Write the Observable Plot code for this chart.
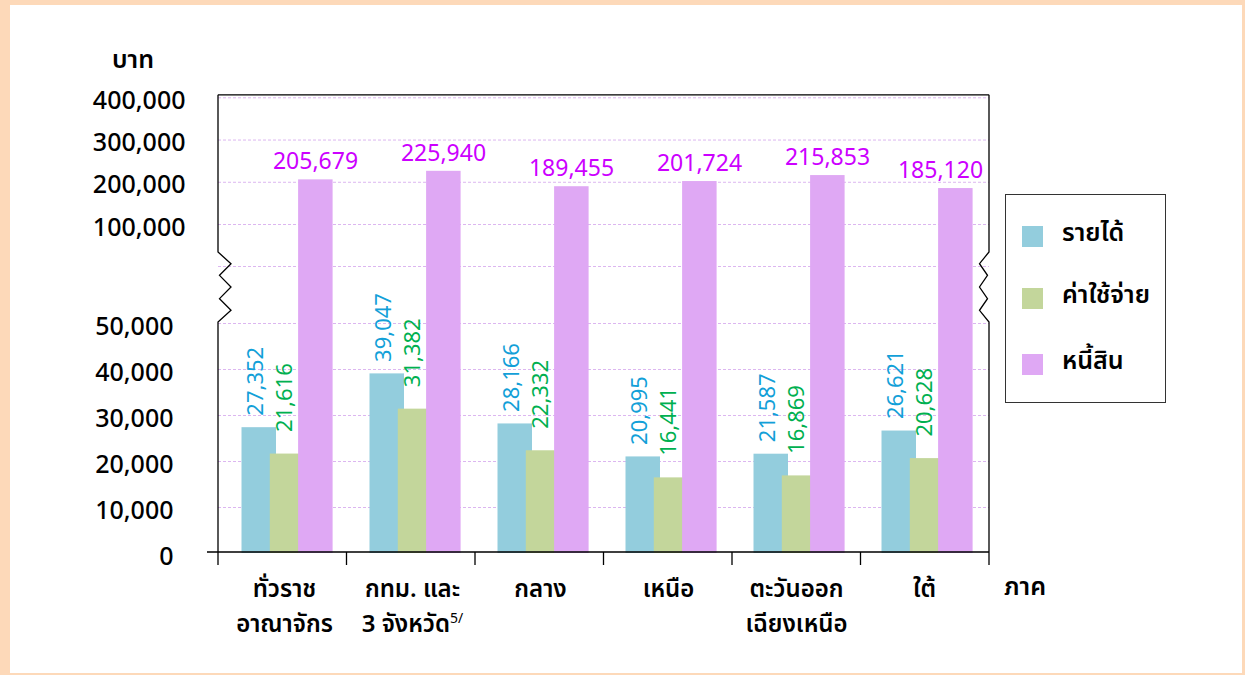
<!DOCTYPE html>
<html>
<head>
<meta charset="utf-8">
<script src="https://cdn.jsdelivr.net/npm/d3@7"></script>
<script src="https://cdn.jsdelivr.net/npm/@observablehq/plot@0.6"></script>
<style>
  body { margin: 0; background: #fff; }
  #page { position: relative; width: 1245px; height: 675px; background: #fdd9b9; overflow: hidden;
          font-family: "Noto Sans", Tahoma, "Noto Sans Thai", "DejaVu Sans", sans-serif; }
  #inner { position: absolute; left: 10px; top: 5px; width: 1232px; height: 668px; background: #fff; }
  #chart { position: absolute; left: 0; top: 0; }
  .txt { position: absolute; color: #000; font-size: 25px; font-weight: 600; white-space: nowrap; }
  #legend { position: absolute; left: 1005px; top: 194px; width: 159px; height: 207px;
            border: 1.5px solid #333; background: #fff; }
  .item { position: absolute; left: 16px; height: 22px; }
  .sw { position: absolute; left: 0; top: 0; width: 21px; height: 21px; }
  .lt { position: absolute; left: 40px; top: -12px; font-size: 25px; font-weight: 600; white-space: nowrap; color: #000; }
</style>
</head>
<body>
<div id="page">
  <div id="inner"></div>
  <div id="chart"></div>
  <div class="txt" id="unit" style="left:112px; top:41px;">บาท</div>
  <div class="txt" id="xunit" style="left:1004px; top:568px;">ภาค</div>
  <div id="legend"></div>
</div>
<script>
// ---- data ----
const categories = ["ทั่วราช\nอาณาจักร", "กทม. และ\n3 จังหวัด", "กลาง", "เหนือ", "ตะวันออก\nเฉียงเหนือ", "ใต้"];
const seriesNames = ["รายได้", "ค่าใช้จ่าย", "หนี้สิน"];
const income  = [27352, 39047, 28166, 20995, 21587, 26621];
const expense = [21616, 31382, 22332, 16441, 16869, 20628];
const debt    = [205679, 225940, 189455, 201724, 215853, 185120];
const lowTicks  = [0, 10000, 20000, 30000, 40000, 50000];
const highTicks = [100000, 200000, 300000, 400000];
const breakLine = [75000];

// ---- styles ----
const barColors  = ["#93cddd", "#c3d69b", "#dfa8f4"];
const textColors = ["#12a0d8", "#00b050", "#cc00ff"];
const fmt = d3.format(",");

const rows = s => categories.map((c, i) => ({cat: c, value: [income, expense, debt][s][i], i}));
const incomeRows = rows(0), expenseRows = rows(1), debtRows = rows(2);
const lastCat = categories[categories.length - 1];

// broken (piecewise) y scale
const yDomain = [0, 50000, 75000, 100000, 400000];
const yRange  = [553, 323, 266, 224, 97.3];

function frameDecor(index, scales, values, dim) {
  const y = scales.y;
  const x0 = dim.marginLeft, x1 = dim.width - dim.marginRight;
  const yTop = y(400000) - 2.5, yBase = y(0) - 1;
  const zTop = y(75000) - 14, zBot = y(50000) - 1;
  const n = categories.length, step = (x1 - x0) / n;
  const zz = (x, dir, amp) => {
    let p = "";
    const seg = (zBot - zTop) / 6;
    for (let k = 1; k < 6; k++) {
      const xx = (k % 2 === 1) ? x + dir * amp : x + dir * 1.5;
      p += `L${xx},${zTop + k * seg}`;
    }
    return p + `L${x},${zBot}`;
  };
  let d = `M${x0},${yTop}H${x1}`;
  d += `M${x0},${yTop}V${zTop}` + zz(x0, 1, 13) + `V${yBase + 13}`;
  d += `M${x1},${yTop}V${zTop}` + zz(x1, -1, 9.5) + `V${yBase + 13}`;
  d += `M${x0 - 11},${yBase}H${x1}`;
  for (let i = 1; i < n; i++) d += `M${x0 + i * step},${yBase}V${yBase + 13}`;
  const g = document.createElementNS("http://www.w3.org/2000/svg", "g");
  const path = document.createElementNS("http://www.w3.org/2000/svg", "path");
  path.setAttribute("d", d);
  path.setAttribute("fill", "none");
  path.setAttribute("stroke", "#000");
  path.setAttribute("stroke-width", "1.3");
  g.appendChild(path);
  return g;
}

const chart = Plot.plot({
  width: 1245,
  height: 675,
  marginLeft: 218,
  marginRight: 256,
  marginTop: 97,
  marginBottom: 122,
  style: {background: "transparent", fontFamily: '"Noto Sans", Tahoma, "Noto Sans Thai", sans-serif', overflow: "visible"},
  x: {type: "band", domain: categories, padding: 0, axis: null},
  y: {type: "linear", domain: yDomain, range: yRange, axis: null},
  marks: [
    Plot.ruleY([...lowTicks.slice(1), ...breakLine, ...highTicks], {stroke: "#dcb6f0", strokeWidth: 1, strokeDasharray: "3,2"}),
    Plot.barY(incomeRows,  {x: "cat", y: "value", fill: barColors[0], insetLeft: 21.5, insetRight: 72}),
    Plot.barY(expenseRows, {x: "cat", y: "value", fill: barColors[1], insetLeft: 49.8, insetRight: 43.7}),
    Plot.barY(debtRows,    {x: "cat", y: "value", fill: barColors[2], insetLeft: 78.1, insetRight: 15.4}),
    frameDecor,
    Plot.text(incomeRows,  {x: "cat", y: "value", text: d => fmt(d.value), rotate: -90, textAnchor: "start",
      dx: -29, dy: -12, fill: textColors[0], fontSize: 22}),
    Plot.text(expenseRows, {x: "cat", y: "value", text: d => fmt(d.value), rotate: -90, textAnchor: "start",
      dx: 0, dy: -22, fill: textColors[1], fontSize: 22}),
    // debt labels (the last one is pulled inside the plot frame, as in the original)
    Plot.text(debtRows.filter(d => d.cat !== lastCat), {x: "cat", y: "value", text: d => fmt(d.value), dx: 31, dy: -18,
      fill: textColors[2], fontSize: 23}),
    Plot.text(debtRows.filter(d => d.cat === lastCat), {x: "cat", y: "value", text: d => fmt(d.value), dx: 16, dy: -18,
      fill: textColors[2], fontSize: 23}),
    Plot.text(lowTicks,  {y: d => d, text: d => fmt(d), frameAnchor: "left", textAnchor: "end", dx: -45, dy: 3,
      fontSize: 25, fontWeight: 500, fill: "#000"}),
    Plot.text(highTicks, {y: d => d, text: d => fmt(d), frameAnchor: "left", textAnchor: "end", dx: -33, dy: 3,
      fontSize: 25, fontWeight: 500, fill: "#000"}),
    Plot.text(categories, {x: d => d, text: d => d, frameAnchor: "bottom", lineAnchor: "top", dy: 19,
      lineHeight: 1.45, fontSize: 24, fontWeight: 600, fill: "#000"})
  ]
});
document.getElementById("chart").appendChild(chart);

// superscript footnote marker
chart.querySelectorAll("tspan").forEach(t => {
  if (t.textContent === "3 จังหวัด") {
    const s = document.createElementNS("http://www.w3.org/2000/svg", "tspan");
    s.setAttribute("dy", "-9");
    s.setAttribute("font-size", "14");
    s.setAttribute("font-weight", "400");
    s.textContent = "5/";
    t.appendChild(s);
  }
});

// legend
const legend = document.getElementById("legend");
const tops = [31, 93, 159];
seriesNames.forEach((name, i) => {
  const it = document.createElement("div");
  it.className = "item";
  it.style.top = tops[i] + "px";
  it.innerHTML = `<div class="sw" style="background:${barColors[i]}"></div><div class="lt">${name}</div>`;
  legend.appendChild(it);
});
</script>
</body>
</html>
